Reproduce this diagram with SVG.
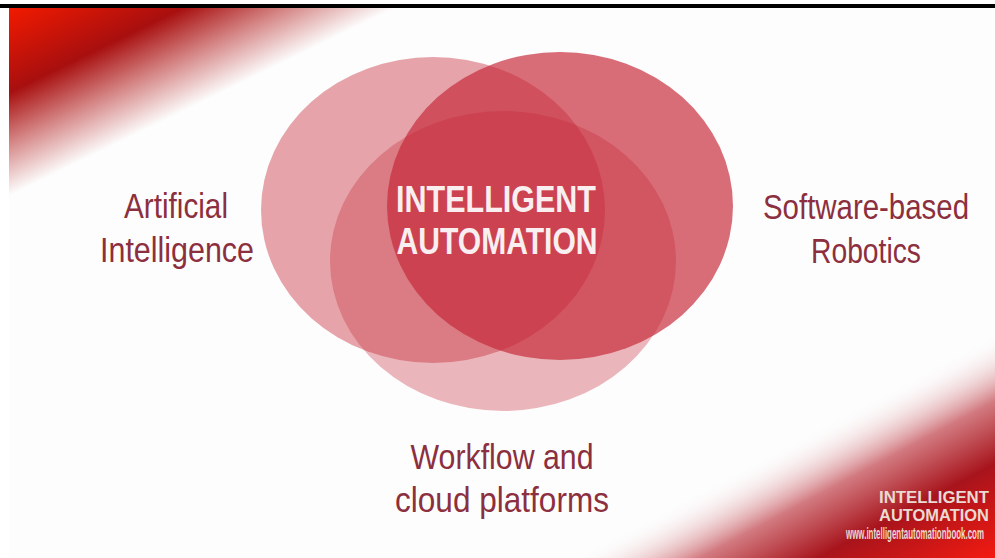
<svg xmlns="http://www.w3.org/2000/svg" width="995" height="558" viewBox="0 0 995 558">
  <defs>
    <linearGradient id="gTL" gradientUnits="userSpaceOnUse" x1="9" y1="8" x2="83" y2="160">
      <stop offset="0" stop-color="#f21a00"/>
      <stop offset="0.45" stop-color="#a80f0f"/>
      <stop offset="0.72" stop-color="#d58585"/>
      <stop offset="1" stop-color="#fdfdfd"/>
    </linearGradient>
    <linearGradient id="gBR" gradientUnits="userSpaceOnUse" x1="902" y1="383" x2="995" y2="558">
      <stop offset="0" stop-color="#fdfdfd" stop-opacity="0"/>
      <stop offset="0.3" stop-color="#d27a80"/>
      <stop offset="0.58" stop-color="#a8141c"/>
      <stop offset="1" stop-color="#f41a10"/>
    </linearGradient>
    <style>
      .ell { fill: #c52838; }
      .lbl { font-family: "Liberation Sans", Arial, sans-serif; font-size: 35px; fill: #8c2f3e; text-anchor: middle; }
      .ctr { font-family: "Liberation Sans", Arial, sans-serif; font-weight: bold; font-size: 37px; fill: #f9eef0; text-anchor: middle; }
      .logo { font-family: "Liberation Sans", Arial, sans-serif; font-weight: bold; font-size: 16px; fill: #eadad2; text-anchor: end; }
    </style>
  </defs>

  <g id="background">
    <rect x="0" y="0" width="995" height="558" fill="#ffffff"/>
    <rect x="9" y="8" width="986" height="550" fill="url(#gTL)"/>
    <rect x="9" y="8" width="986" height="550" fill="url(#gBR)"/>
    <rect x="0" y="4" width="995" height="4" fill="#000000"/>
  </g>

  <g id="node-ai">
    <ellipse class="ell" cx="433" cy="210" rx="172" ry="153" opacity="0.42"/>
    <text class="lbl" x="176" y="218" textLength="104" lengthAdjust="spacingAndGlyphs">Artificial</text>
    <text class="lbl" x="177" y="262" textLength="154" lengthAdjust="spacingAndGlyphs">Intelligence</text>
  </g>

  <g id="node-robotics">
    <ellipse class="ell" cx="560" cy="206" rx="173" ry="154" opacity="0.68"/>
    <text class="lbl" x="866" y="219" textLength="206" lengthAdjust="spacingAndGlyphs">Software-based</text>
    <text class="lbl" x="866" y="263" textLength="110" lengthAdjust="spacingAndGlyphs">Robotics</text>
  </g>

  <g id="node-workflow">
    <ellipse class="ell" cx="503" cy="261" rx="173" ry="150" opacity="0.33"/>
    <text class="lbl" x="502" y="469" textLength="183" lengthAdjust="spacingAndGlyphs">Workflow and</text>
    <text class="lbl" x="502" y="512" textLength="214" lengthAdjust="spacingAndGlyphs">cloud platforms</text>
  </g>

  <g id="node-center">
    <text class="ctr" x="496" y="212" textLength="200" lengthAdjust="spacingAndGlyphs">INTELLIGENT</text>
    <text class="ctr" x="497" y="254" textLength="201" lengthAdjust="spacingAndGlyphs">AUTOMATION</text>
  </g>

  <g id="logo">
    <text class="logo" x="989" y="503" textLength="110" lengthAdjust="spacingAndGlyphs">INTELLIGENT</text>
    <text class="logo" x="989" y="521" textLength="110" lengthAdjust="spacingAndGlyphs">AUTOMATION</text>
    <text class="logo" x="984" y="539" font-size="6" font-weight="normal" textLength="138" lengthAdjust="spacingAndGlyphs">www.intelligentautomationbook.com</text>
  </g>
</svg>
